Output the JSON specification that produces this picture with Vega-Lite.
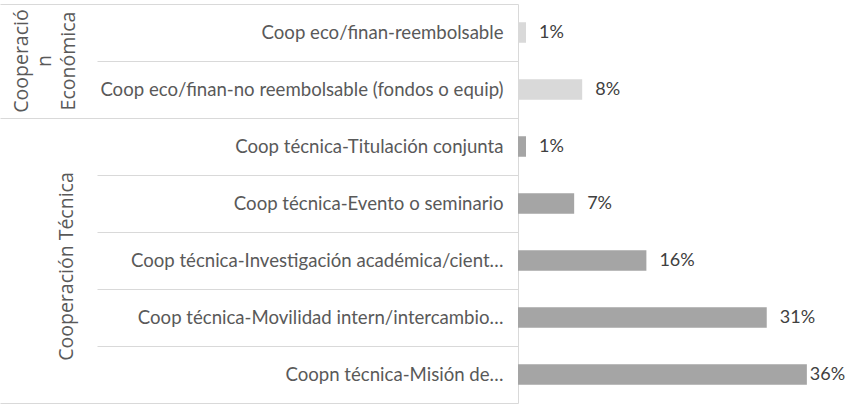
{
  "$schema": "https://vega.github.io/schema/vega-lite/v6.json",
  "width": 333,
  "height": 399,
  "autosize": "none",
  "padding": {"left": 518, "top": 4, "right": 0, "bottom": 3},
  "background": "white",
  "config": {"view": {"stroke": null}, "font": "Lato"},
  "data": {"values": [
    {"group": "Cooperación Económica", "category": "Coop eco/finan-reembolsable", "value": 0.01},
    {"group": "Cooperación Económica", "category": "Coop eco/finan-no reembolsable (fondos o equip)", "value": 0.08},
    {"group": "Cooperación Técnica", "category": "Coop técnica-Titulación conjunta", "value": 0.01},
    {"group": "Cooperación Técnica", "category": "Coop técnica-Evento o seminario", "value": 0.07},
    {"group": "Cooperación Técnica", "category": "Coop técnica-Investigación académica/cient…", "value": 0.16},
    {"group": "Cooperación Técnica", "category": "Coop técnica-Movilidad intern/intercambio…", "value": 0.31},
    {"group": "Cooperación Técnica", "category": "Coopn técnica-Misión de…", "value": 0.36}
  ]},
  "layer": [
    {
      "mark": {"type": "bar", "height": {"band": 0.36}},
      "encoding": {
        "y": {
          "field": "category", "type": "nominal", "sort": null,
          "scale": {"paddingInner": 0, "paddingOuter": 0},
          "axis": {
            "orient": "left", "title": null, "tickBand": "extent",
            "tickColor": "#d9d9d9", "domainColor": "#d9d9d9", "tickWidth": 1, "domainWidth": 1,
            "tickSize": {"condition": {"test": "indexof(['Coop eco/finan-reembolsable', 'Coop técnica-Titulación conjunta', 'Coop técnica-Evento o seminario', 'Coop técnica-Investigación académica/cient…', 'Coop técnica-Movilidad intern/intercambio…'], datum.value) >= 0", "value": 421}, "value": 518},
            "labelPadding": {"condition": {"test": "indexof(['Coop eco/finan-reembolsable', 'Coop técnica-Titulación conjunta', 'Coop técnica-Evento o seminario', 'Coop técnica-Investigación académica/cient…', 'Coop técnica-Movilidad intern/intercambio…'], datum.value) >= 0", "value": -406}, "value": -503},
            "labelFont": "Lato", "labelFontSize": 18.6, "labelColor": "#595959",
            "labelLimit": 600, "labelOverlap": false
          }
        },
        "x": {"field": "value", "type": "quantitative", "scale": {"domain": [0, 0.415], "nice": false}, "axis": null},
        "color": {
          "field": "group", "type": "nominal",
          "scale": {"domain": ["Cooperación Económica", "Cooperación Técnica"], "range": ["#d9d9d9", "#a5a5a5"]},
          "legend": null
        }
      }
    },
    {
      "transform": [{"filter": "datum.value < 0.35"}],
      "mark": {"type": "text", "align": "left", "baseline": "middle", "font": "Lato", "fontSize": 18, "color": "#404040", "dx": 13},
      "encoding": {
        "y": {
          "field": "category", "type": "nominal", "sort": null,
          "axis": {
            "orient": "left", "title": null, "ticks": false, "domain": false,
            "values": ["Coop eco/finan-reembolsable", "Coop técnica-Investigación académica/cient…"],
            "labelExpr": "datum.value === 'Coop eco/finan-reembolsable' ? ['Cooperació', 'n', 'Económica'] : 'Cooperación Técnica'",
            "labelAngle": 270, "labelAlign": "center", "labelBaseline": "middle",
            "labelOffset": {"condition": {"test": "datum.value === 'Coop eco/finan-reembolsable'", "value": 28.5}, "value": 6},
            "labelPadding": {"condition": {"test": "datum.value === 'Coop eco/finan-reembolsable'", "value": 497}, "value": 452},
            "labelFont": "Open Sans", "labelFontSize": 19.5, "labelColor": "#595959", "labelLineHeight": 23.5,
            "labelLimit": 600, "labelOverlap": false
          }
        },
        "x": {"field": "value", "type": "quantitative"},
        "text": {"field": "value", "type": "quantitative", "format": ".0%"}
      }
    },
    {
      "transform": [{"filter": "datum.value >= 0.35"}],
      "mark": {"type": "text", "align": "left", "baseline": "middle", "font": "Lato", "fontSize": 18, "color": "#404040", "dx": 3},
      "encoding": {
        "y": {"field": "category", "type": "nominal", "sort": null, "axis": null},
        "x": {"field": "value", "type": "quantitative"},
        "text": {"field": "value", "type": "quantitative", "format": ".0%"}
      }
    }
  ],
  "resolve": {"axis": {"y": "independent"}}
}
